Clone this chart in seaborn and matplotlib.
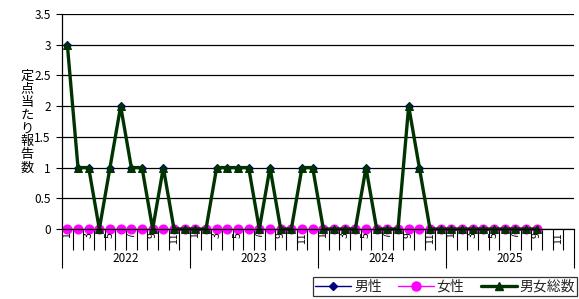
import matplotlib
matplotlib.use("Agg")
import matplotlib.pyplot as plt
import seaborn as sns
import pandas as pd
import numpy as np
from matplotlib.ticker import FixedLocator, FuncFormatter
from matplotlib.lines import Line2D

years = ["2022", "2023", "2024", "2025"]
months_per_year = 12
male = [3, 1, 1, 0, 1, 2, 1, 1, 0, 1, 0, 0,
        0, 0, 1, 1, 1, 1, 0, 1, 0, 0, 1, 1,
        0, 0, 0, 0, 1, 0, 0, 0, 2, 1, 0, 0,
        0, 0, 0, 0, 0, 0, 0, 0, 0]
female = [0] * 45
total = [3, 1, 1, 0, 1, 2, 1, 1, 0, 1, 0, 0,
         0, 0, 1, 1, 1, 1, 0, 1, 0, 0, 1, 1,
         0, 0, 0, 0, 1, 0, 0, 0, 2, 1, 0, 0,
         0, 0, 0, 0, 0, 0, 0, 0, 0]
series_names = ["男性", "女性", "男女総数"]
y_ticks = [0, 0.5, 1, 1.5, 2, 2.5, 3, 3.5]
month_labels = ["1", "3", "5", "7", "9", "11"]

sns.set_theme(style="white")
plt.rcParams['font.family'] = ['Noto Sans CJK JP', 'DejaVu Sans']

W, H = 579, 299
fig = plt.figure(figsize=(W / 100, H / 100), dpi=100)
left, right, top, bottom = 62, 574, 14, 229
ax = fig.add_axes([left / W, 1 - bottom / H, (right - left) / W, (bottom - top) / H])

n = len(total)
df = pd.DataFrame({"idx": np.arange(n), "male": male, "female": female, "total": total})

sns.lineplot(data=df, x="idx", y="male", ax=ax, color="#000080", marker="D",
             markersize=4, linewidth=1, markeredgecolor="#000080", clip_on=False)
sns.lineplot(data=df, x="idx", y="female", ax=ax, color="#FF00FF", marker="o",
             markersize=6.5, linewidth=1, markeredgecolor="#FF00FF", clip_on=False)
sns.lineplot(data=df, x="idx", y="total", ax=ax, color="#003300", marker="^",
             markersize=6, linewidth=2.4, markeredgecolor="#003300", clip_on=False)

nm = len(years) * months_per_year
ax.set_xlim(-0.5, nm - 0.5)
ax.set_ylim(0, 3.5)
ax.set_xlabel("")
ax.set_ylabel("")

# y axis
ax.yaxis.set_major_locator(FixedLocator(y_ticks))
ax.yaxis.set_major_formatter(FuncFormatter(lambda v, p: f"{v:g}"))
ax.grid(axis="y", color="black", linewidth=0.9)
ax.set_axisbelow(True)
ax.tick_params(axis="y", which="major", direction="out", length=4, width=0.8,
               color="black", left=True, labelsize=8.5, pad=4, labelcolor="black")

for s in ["top", "right"]:
    ax.spines[s].set_visible(False)
for s in ["left", "bottom"]:
    ax.spines[s].set_color("black")
    ax.spines[s].set_linewidth(0.9)

# x axis: month separators & year separators
ax.xaxis.set_major_locator(FixedLocator([i * 12 - 0.5 for i in range(len(years) + 1)]))
ax.xaxis.set_minor_locator(FixedLocator([i - 0.5 for i in range(nm + 1)]))
ax.xaxis.set_major_formatter(FuncFormatter(lambda v, p: ""))
ax.tick_params(axis="x", which="major", direction="out", length=28, width=0.8,
               color="black", bottom=True)
ax.tick_params(axis="x", which="minor", direction="out", length=15, width=0.8,
               color="black", bottom=True)

ph = bottom - top
for yi, yr in enumerate(years):
    for m in range(12):
        lab = str(m + 1)
        if lab in month_labels:
            ax.text(yi * 12 + m, -3 / ph, lab, rotation=90, ha="center", va="top",
                    fontsize=7.5, transform=ax.get_xaxis_transform(), color="black")
    ax.text(yi * 12 + 5.5, -29 / ph, yr, ha="center", va="center", fontsize=8.5,
            transform=ax.get_xaxis_transform(), color="black")

# y label stacked vertically
fig.text(27 / W, 1 - 122 / H, "\n".join("定点当たり報告数"), ha="center", va="center",
         fontsize=9.5, linespacing=1.02, color="black")

handles = [
    Line2D([], [], color="#000080", marker="D", markersize=4, linewidth=1),
    Line2D([], [], color="#FF00FF", marker="o", markersize=6.5, linewidth=1),
    Line2D([], [], color="#003300", marker="^", markersize=6, linewidth=2.4),
]
leg = fig.legend(handles, series_names, loc="center",
                 bbox_to_anchor=(313 / W, 1 - 297 / H, 264 / W, 21 / H), mode="expand",
                 ncol=3, fontsize=10,
                 frameon=True, fancybox=False, edgecolor="black", handlelength=2.6,
                 handletextpad=0.2, columnspacing=1.0, borderpad=0.15, borderaxespad=0)
leg.get_frame().set_linewidth(0.9)

fig.savefig("out.png", dpi=100)
